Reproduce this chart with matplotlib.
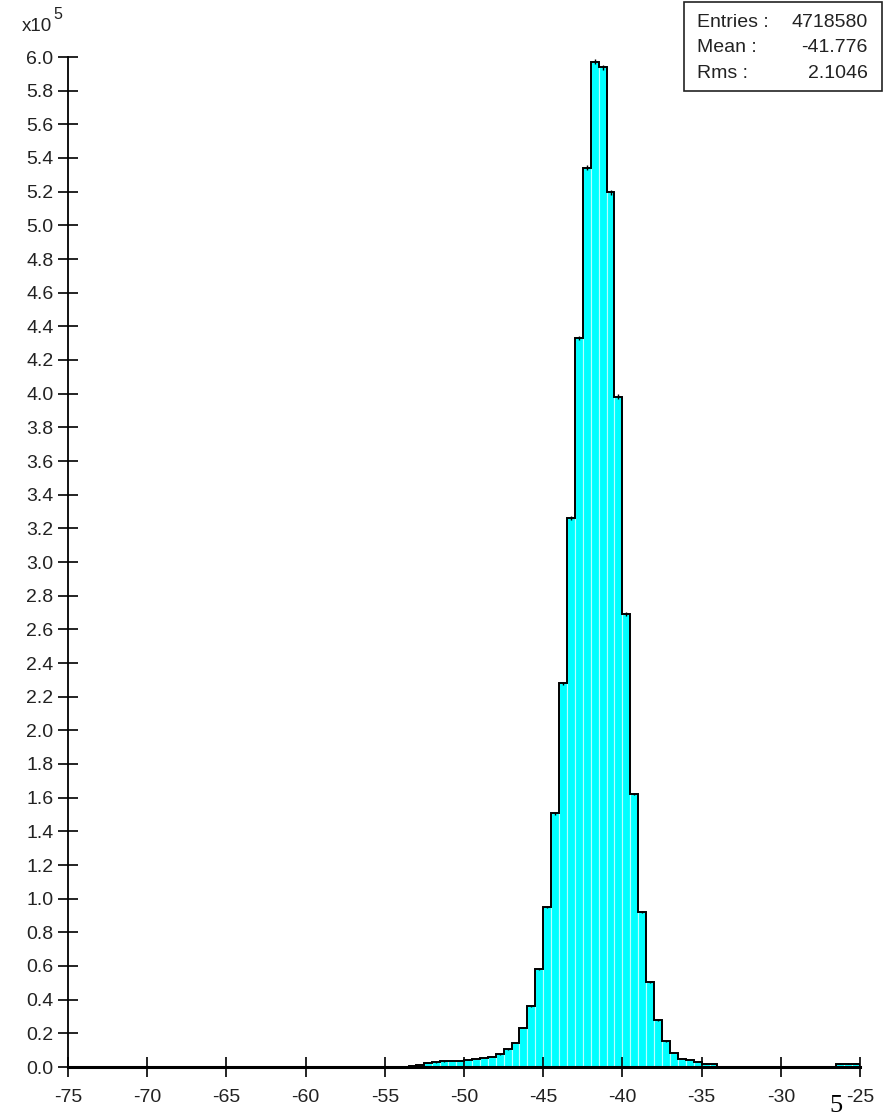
import numpy as np
import matplotlib
matplotlib.use("Agg")
import matplotlib.pyplot as plt
from matplotlib.patches import Rectangle

# histogram: 100 bins of 0.5 from -75 to -25, heights in units of 1e5 entries
x_min, x_max, n_bins = -75, -25, 100
counts_e5 = (
    [0.0] * 43
    + [0.008, 0.012, 0.022, 0.027, 0.033, 0.035, 0.037, 0.040, 0.048, 0.052,
       0.060, 0.075, 0.105, 0.143, 0.232, 0.360, 0.582, 0.952, 1.507, 2.280,
       3.260, 4.330, 5.343, 5.973, 5.940, 5.197, 3.983, 2.690, 1.622, 0.919,
       0.503, 0.277, 0.152, 0.083, 0.049, 0.040, 0.031, 0.020, 0.018]
    + [0.0] * 15
    + [0.020, 0.020, 0.020]
)
stat_labels = ["Entries :", "Mean :", "Rms :"]
stat_values = ["4718580", "-41.776", "2.1046"]
x_ticks = list(range(-75, -24, 5))
y_ticks = [round(0.2 * i, 1) for i in range(31)]

W, H = 889, 1119
plt.rcParams["font.family"] = ["Liberation Sans", "DejaVu Sans"]
fig = plt.figure(figsize=(W / 100, H / 100), dpi=100)

left, right, bottom, top = 68, 860, 1067, 57
ax = fig.add_axes([left / W, 1 - bottom / H, (right - left) / W, (bottom - top) / H])

edges = np.linspace(x_min, x_max, n_bins + 1)
centers = (edges[:-1] + edges[1:]) / 2
counts = np.array(counts_e5)

ax.bar(centers, counts, width=0.5, color="#00ffff", edgecolor="#b8ffff", linewidth=0.8, zorder=1)
ax.stairs(counts, edges, color="black", linewidth=1.4, zorder=3)
nz = counts > 0
err = np.sqrt(counts[nz] * 1e5) / 1e5
ax.errorbar(centers[nz], counts[nz], yerr=err * 2, fmt="none", ecolor="black", elinewidth=1, zorder=4)

ax.set_xlim(x_min, x_max)
ax.set_ylim(0, 6.0)
ax.set_xticks(x_ticks)
ax.set_xticklabels([str(t) for t in x_ticks])
ax.set_yticks(y_ticks)
ax.set_yticklabels([f"{t:.1f}" for t in y_ticks])
for s in ["top", "right"]:
    ax.spines[s].set_visible(False)
ax.spines["left"].set_linewidth(1.3)
ax.spines["bottom"].set_linewidth(2.2)
ax.spines["left"].set_zorder(5)
ax.spines["bottom"].set_zorder(5)
ax.tick_params(axis="both", direction="inout", length=14, width=1.2, labelsize=14,
               colors="black")
ax.tick_params(axis="y", pad=3.5)
ax.tick_params(axis="x", pad=9)
for lab in ax.get_xticklabels() + ax.get_yticklabels():
    lab.set_color("#222222")

# x10^5 scale label
fig.text(22 / W, 1 - 31 / H, "x10", fontsize=13.5, color="#222222", va="baseline", ha="left")
fig.text(53 / W, 1 - 19 / H, "5", fontsize=11.5, color="#222222", va="baseline", ha="left")

# stats box
fig.add_artist(Rectangle((684 / W, 1 - 91 / H), (882 - 684) / W, 89 / H,
                         transform=fig.transFigure, fill=False, edgecolor="#222222", linewidth=1.2))
for i, (lab, val) in enumerate(zip(stat_labels, stat_values)):
    yb = 1 - (27 + 25.5 * i) / H
    fig.text(697 / W, yb, lab, fontsize=14, color="#222222", va="baseline", ha="left")
    fig.text(868 / W, yb, val, fontsize=14, color="#222222", va="baseline", ha="right")

# stray digit under the axis end
fig.text(829 / W, 1 - 1112 / H, "5", fontsize=19, family="Liberation Serif", color="black",
         va="baseline", ha="left")

fig.savefig("out.png", dpi=100)
